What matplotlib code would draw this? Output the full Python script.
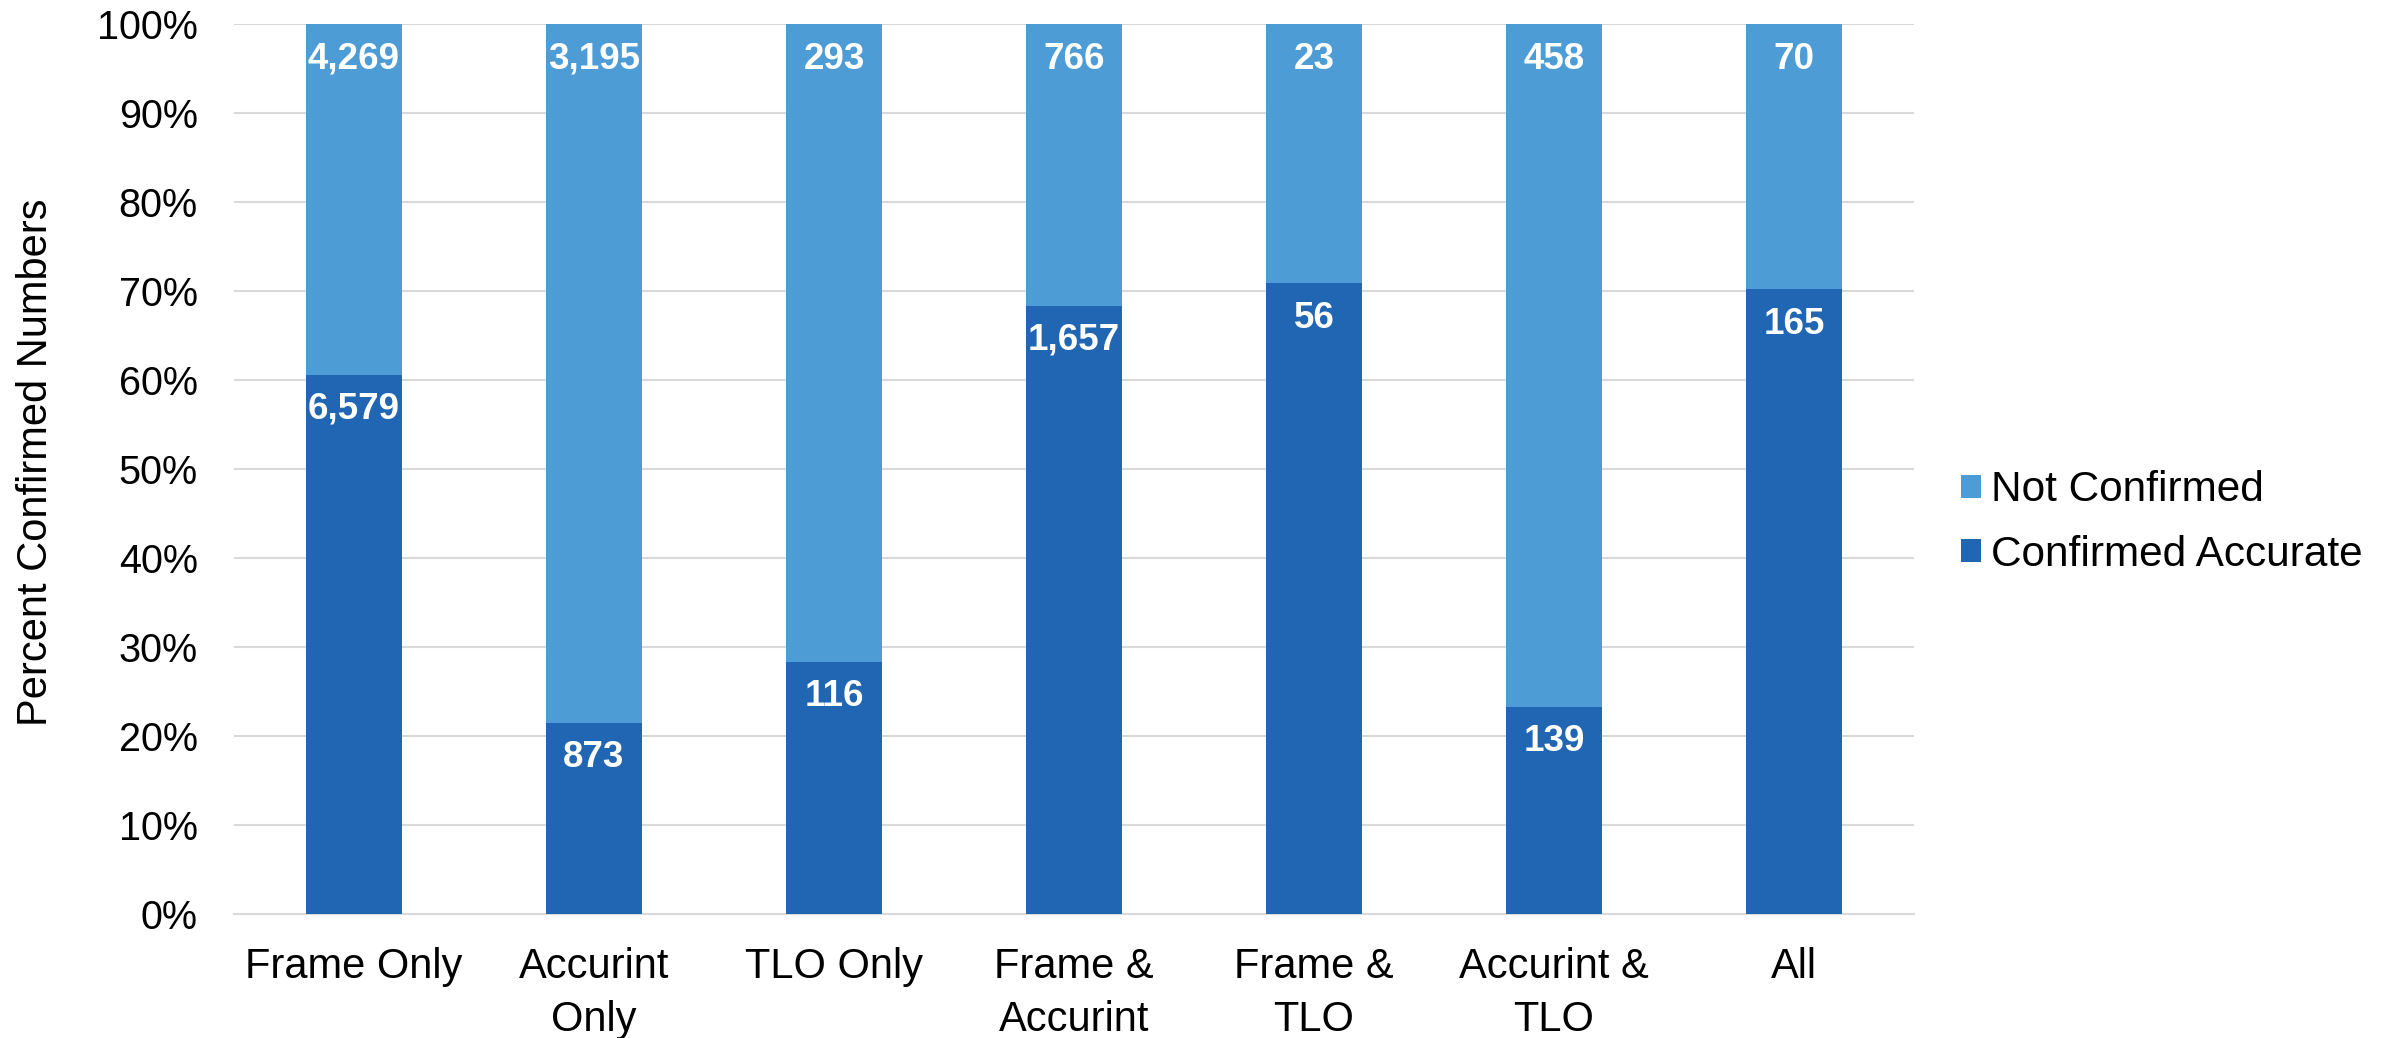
import numpy as np
import matplotlib.pyplot as plt

# Counts per source combination
categories = ["Frame Only", "Accurint\nOnly", "TLO Only", "Frame &\nAccurint",
              "Frame &\nTLO", "Accurint &\nTLO", "All"]
confirmed = [6579, 873, 116, 1657, 56, 139, 165]
not_confirmed = [4269, 3195, 293, 766, 23, 458, 70]
y_ticks = [0, 10, 20, 30, 40, 50, 60, 70, 80, 90, 100]

plt.rcParams['font.family'] = ['Liberation Sans', 'DejaVu Sans']

dark = "#2166B3"
light = "#4E9CD6"

conf = np.array(confirmed, dtype=float)
notc = np.array(not_confirmed, dtype=float)
total = conf + notc
conf_pct = conf / total * 100
notc_pct = notc / total * 100

fig = plt.figure(figsize=(23.97, 10.38), dpi=100)
ax = fig.add_axes([0.0976, 0.1195, 0.7009, 0.8569])

x = np.arange(len(categories))
b1 = ax.bar(x, conf_pct, width=0.40, color=dark, label="Confirmed Accurate", zorder=3)
b2 = ax.bar(x, notc_pct, width=0.40, bottom=conf_pct, color=light,
            label="Not Confirmed", zorder=3)

# labels just inside the top of each segment
for i in range(len(categories)):
    ax.annotate(f"{confirmed[i]:,}", (x[i], conf_pct[i]), xytext=(0, -25),
                textcoords="offset points", ha="center", va="center",
                color="white", fontsize=26.5, fontweight="bold", zorder=4)
    ax.annotate(f"{not_confirmed[i]:,}", (x[i], 100), xytext=(0, -25),
                textcoords="offset points", ha="center", va="center",
                color="white", fontsize=26.5, fontweight="bold", zorder=4)

ax.set_xlim(-0.5, len(categories) - 0.5)
ax.set_ylim(0, 100)
ax.set_yticks(y_ticks)
ax.set_yticklabels([f"{t}%" for t in y_ticks], fontsize=28.5)
ax.set_xticks(x)
ax.set_xticklabels(categories, linespacing=1.42, fontsize=30)
ax.tick_params(axis="both", length=0)
ax.tick_params(axis="y", pad=26)
ax.tick_params(axis="x", pad=24)
ax.yaxis.grid(True, color="#D9D9D9", linewidth=1.5, zorder=0)
for s in ["top", "right", "left"]:
    ax.spines[s].set_visible(False)
ax.spines["bottom"].set_color("#D9D9D9")
ax.spines["bottom"].set_linewidth(1.5)

ax.set_ylabel("Percent Confirmed Numbers", fontsize=30)
ax.yaxis.set_label_coords(-0.106, 0.508)

handles = [b2, b1]
ax.legend(handles, ["Not Confirmed", "Confirmed Accurate"], loc="center left",
          bbox_to_anchor=(1.028, 0.44), frameon=False, fontsize=30.5,
          borderaxespad=0, borderpad=0,
          handlelength=0.46, handleheight=0.46, handletextpad=0.25, labelspacing=0.58)

fig.savefig("out.png", dpi=100)
